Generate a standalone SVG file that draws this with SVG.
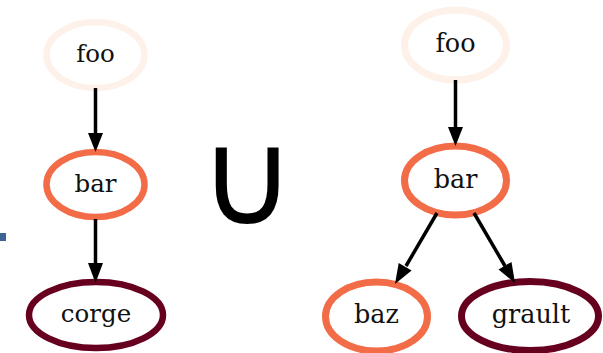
<svg xmlns="http://www.w3.org/2000/svg" width="603" height="353" viewBox="0 0 603 353">
  <defs>
    <style>
      .node { fill: #ffffff; }
      .light { stroke: #fdf1e9; }
      .mid { stroke: #f36c48; }
      .dark { stroke: #67001f; }
      .l .node { stroke-width: 6.5; }
      .r .node { stroke-width: 7; }
      .label { font-family: "DejaVu Serif", serif; fill: #111111; text-anchor: middle; }
      .l .label { font-size: 24.5px; }
      .r .label { font-size: 25.5px; }
      .edge line { stroke: #000000; stroke-width: 3.5; }
      .edge polygon { fill: #000000; }
      .union { font-family: "DejaVu Sans", sans-serif; font-size: 132px; fill: #000000; text-anchor: middle; }
    </style>
  </defs>
  <rect width="603" height="353" fill="#ffffff"/>

  <!-- small marker at the left edge -->
  <rect x="0" y="233" width="6" height="8" fill="#3b6596"/>

  <!-- left graph: foo -> bar -> corge -->
  <g class="l">
    <g id="l-foo"><ellipse class="node light" cx="95.5" cy="55" rx="49" ry="33"/><text class="label" x="95.5" y="62">foo</text></g>
    <g id="l-bar"><ellipse class="node mid" cx="95.5" cy="184.5" rx="49" ry="32.5"/><text class="label" x="95.5" y="192">bar</text></g>
    <g id="l-corge"><ellipse class="node dark" cx="96" cy="315" rx="67" ry="33"/><text class="label" x="96" y="322">corge</text></g>
  </g>
  <g id="l-edges" class="edge">
    <line x1="95.5" y1="88" x2="95.5" y2="135"/>
    <polygon points="88,133 103,133 95.5,152"/>
    <line x1="95.5" y1="219" x2="95.5" y2="265"/>
    <polygon points="88,263 103,263 95.5,283"/>
  </g>

  <!-- union symbol -->
  <text class="union" x="247" y="224">∪</text>

  <!-- right graph: foo -> bar -> {baz, grault} -->
  <g class="r">
    <g id="r-foo"><ellipse class="node light" cx="455.5" cy="45" rx="51" ry="35"/><text class="label" x="455.5" y="52">foo</text></g>
    <g id="r-bar"><ellipse class="node mid" cx="455.5" cy="180.5" rx="51" ry="34.5"/><text class="label" x="455.5" y="188">bar</text></g>
    <g id="r-baz"><ellipse class="node mid" cx="376.5" cy="316.5" rx="51" ry="34.5"/><text class="label" x="376.5" y="323">baz</text></g>
    <g id="r-grault"><ellipse class="node dark" cx="530" cy="316" rx="68.5" ry="34.5"/><text class="label" x="531" y="323">grault</text></g>
  </g>
  <g id="r-edges" class="edge">
    <line x1="455.5" y1="80" x2="455.5" y2="129"/>
    <polygon points="448,127 463,127 455.5,146"/>
    <line x1="437" y1="213" x2="406" y2="266"/>
    <polygon points="411.6,270.6 398.7,263 395,284"/>
    <line x1="474" y1="213" x2="505" y2="266"/>
    <polygon points="511.5,262 498.5,269.5 515,283"/>
  </g>
</svg>
